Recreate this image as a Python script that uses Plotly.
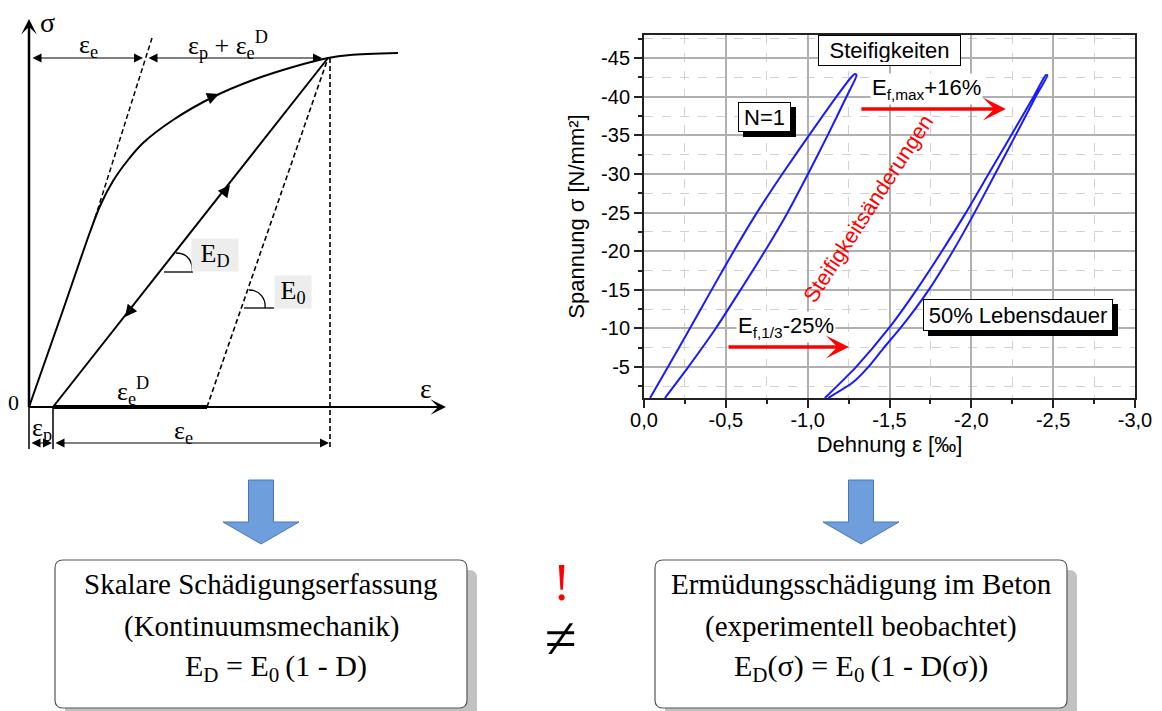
import plotly.graph_objects as go

# ---------------- right chart data: strain [‰], stress [N/mm²] ----------------
n1_load_strain = [-0.037, -0.146, -0.28, -0.413, -0.548, -0.69, -0.845, -1.008, -1.175, -1.269, -1.289]
n1_load_stress = [-1, -5, -10, -15, -20, -25, -30, -35, -40, -42.6, -42.95]
n1_unload_strain = [-1.299, -1.237, -1.122, -1.002, -0.877, -0.738, -0.590, -0.438, -0.270, -0.128]
n1_unload_stress = [-42.8, -40, -35, -30, -25, -20, -15, -10, -5, -1]

p50_load_strain = [-1.105, -1.295, -1.495, -1.665, -1.820, -1.967, -2.105, -2.243, -2.380, -2.455]
p50_load_stress = [-1, -5, -10, -15, -20, -25, -30, -35, -40, -42.8]
p50_unload_strain = [-2.465, -2.393, -2.27, -2.145, -2.02, -1.887, -1.74, -1.565, -1.465, -1.37, -1.275, -1.125]
p50_unload_stress = [-42.8, -40, -35, -30, -25, -20, -15, -10, -7.5, -5, -3, -1]

x_tickvals = [0, -0.5, -1.0, -1.5, -2.0, -2.5, -3.0]
x_ticktext = ["0,0", "-0,5", "-1,0", "-1,5", "-2,0", "-2,5", "-3,0"]
x_minor = [-0.25, -0.75, -1.25, -1.75, -2.25, -2.75]
y_tickvals = [-45, -40, -35, -30, -25, -20, -15, -10, -5]
y_ticktext = ["-45", "-40", "-35", "-30", "-25", "-20", "-15", "-10", "-5"]
y_minor = [-47.5, -42.5, -37.5, -32.5, -27.5, -22.5, -17.5, -12.5, -7.5, -2.5]

# ---------------- left schematic sketch (drawn in a pixel-space helper axis) ----------------
sk_loading_x = [29, 62, 90, 100, 113, 128, 143, 173, 213, 253, 293, 328, 350, 398]
sk_loading_y = [407, 313, 232, 206, 181, 160, 143, 120, 97, 80, 67, 58, 55, 53]
sk_tangent_x, sk_tangent_y = [95, 152], [218, 38]
sk_unload_x, sk_unload_y = [328, 53], [58, 407]
sk_e0_x, sk_e0_y = [207, 328], [407, 58]
sk_vert_x, sk_vert_y = [330, 330], [58, 447]
sk_thick_x, sk_thick_y = [53, 207], [407, 407]

SERIF = "Liberation Serif"
SANS = "Liberation Sans"
W, H = 1162, 711
OFF = 8  # page body offset of the rendered figure

fig = go.Figure()

# right chart loops
for xs, ys in ((n1_load_strain + n1_unload_strain, n1_load_stress + n1_unload_stress),
               (p50_load_strain + p50_unload_strain, p50_load_stress + p50_unload_stress)):
    fig.add_trace(go.Scatter(x=xs, y=ys, mode="lines",
                             line=dict(color="#1a1aff", width=2, shape="spline", smoothing=0.6),
                             showlegend=False, hoverinfo="skip"))

def sk_line(xs, ys, width=2, dash=None, shape="linear"):
    fig.add_trace(go.Scatter(x=xs, y=ys, xaxis="x2", yaxis="y2", mode="lines",
                             line=dict(color="black", width=width, dash=dash, shape=shape, smoothing=0.8),
                             showlegend=False, hoverinfo="skip"))

# axes of sketch
sk_line([29, 29], [407, 26], width=2.5)
sk_line([29, 438], [407, 407], width=2)
sk_line(sk_loading_x, sk_loading_y, width=2, shape="spline")
sk_line(sk_tangent_x, sk_tangent_y, width=1.5, dash="5px,3px")
sk_line(sk_unload_x, sk_unload_y, width=2)
sk_line(sk_e0_x, sk_e0_y, width=1.6, dash="5px,3px")
sk_line(sk_vert_x, sk_vert_y, width=1.6, dash="5px,3px")
sk_line(sk_thick_x, sk_thick_y, width=4)
sk_line([29, 29], [407, 449], width=1.5)
sk_line([53, 53], [407, 449], width=1.5)

ann = []

def sk_arrow(x, y, ax, ay, head=3, size=1.2, width=2, side="end"):
    ann.append(dict(x=x, y=y, ax=ax, ay=ay, xref="x2", yref="y2", axref="x2", ayref="y2",
                    text="", showarrow=True, arrowhead=head, startarrowhead=head, arrowsize=size,
                    startarrowsize=size, arrowwidth=width, arrowcolor="black", arrowside=side))

def sk_text(x, y, t, size=24, family=SERIF, color="black", **kw):
    ann.append(dict(x=x, y=y, xref="x2", yref="y2", text=t, showarrow=False,
                    font=dict(family=family, size=size, color=color), **kw))

# axis arrowheads
sk_arrow(29, 19, 29, 32, head=3, size=1.3, width=2)
sk_arrow(446, 407, 433, 407, head=3, size=1.3, width=2)
# direction arrows on paths
sk_arrow(230, 185, 223.8, 192.9, head=2, size=1.6, width=1.5)
sk_arrow(125, 317, 131.2, 309.1, head=2, size=1.6, width=1.5)
sk_arrow(219, 94, 209, 98, head=2, size=1.6, width=1.5)
# dimension arrows
sk_arrow(143, 58, 31, 58, head=2, size=1.8, width=1, side="end+start")
sk_arrow(322, 58, 147, 58, head=2, size=1.8, width=1, side="end+start")
sk_arrow(52, 443, 30, 443, head=2, size=1.8, width=1, side="end+start")
sk_arrow(329, 443, 54, 443, head=2, size=1.8, width=1, side="end+start")

# sketch labels
sk_text(47, 22, "σ", size=28)
sk_text(88, 46, "ε<sub>e</sub>", size=26)
sk_text(228, 45, "ε<sub>p</sub> + ε<sub>e</sub><sup>D</sup>", size=26)
sk_text(13, 402, "0", size=22)
sk_text(426, 388, "ε", size=28)
sk_text(133, 391, "ε<sub>e</sub><sup>D</sup>", size=26)
sk_text(42, 429, "ε<sub>p</sub>", size=26)
sk_text(183, 432, "ε<sub>e</sub>", size=26)
sk_text(214.5, 255, "E<sub>D</sub>", size=26, bgcolor="#ededed", width=44, height=30)
sk_text(292.5, 292, "E<sub>0</sub>", size=26, bgcolor="#ededed", width=34, height=30)

shapes = []
# angle marks
shapes.append(dict(type="path", xref="x2", yref="y2", path="M176,253 C188,253 193,262 192,272",
                   line=dict(color="black", width=1.3)))
shapes.append(dict(type="line", xref="x2", yref="y2", x0=164, y0=272, x1=193, y1=272,
                   line=dict(color="black", width=1.3)))
shapes.append(dict(type="path", xref="x2", yref="y2", path="M249,290 C260,290 266,299 265,308",
                   line=dict(color="black", width=1.3)))
shapes.append(dict(type="line", xref="x2", yref="y2", x0=244, y0=308, x1=274, y1=308,
                   line=dict(color="black", width=1.3)))

# blue down arrows
def down_arrow(c):
    return (f"M{c-12.5},480 L{c+12.5},480 L{c+12.5},522 L{c+38},522 L{c},544 "
            f"L{c-38},522 L{c-12.5},522 Z")
for c in (261, 861):
    shapes.append(dict(type="path", xref="x2", yref="y2", path=down_arrow(c),
                       fillcolor="#6f9edc", line=dict(color="#4a77b4", width=1)))

def rrect(x0, y0, x1, y1, r):
    return (f"M{x0+r},{y0} L{x1-r},{y0} Q{x1},{y0} {x1},{y0+r} L{x1},{y1-r} Q{x1},{y1} {x1-r},{y1} "
            f"L{x0+r},{y1} Q{x0},{y1} {x0},{y1-r} L{x0},{y0+r} Q{x0},{y0} {x0+r},{y0} Z")

for (x0, x1) in ((55, 467), (655, 1067)):
    shapes.append(dict(type="path", xref="x2", yref="y2", path=rrect(x0 + 10, 570, x1 + 10, 718, 8),
                       fillcolor="#c2c2c2", line=dict(width=0), layer="above"))
    shapes.append(dict(type="path", xref="x2", yref="y2", path=rrect(x0, 560, x1, 708, 8),
                       fillcolor="white", line=dict(color="#555555", width=1.2), layer="above"))

# box texts
box_lines_left = ["Skalare Schädigungserfassung", "(Kontinuumsmechanik)",
                  "E<sub>D</sub> = E<sub>0</sub>\u2009(1 - D)"]
box_lines_right = ["Ermüdungsschädigung im Beton", "(experimentell beobachtet)",
                   "E<sub>D</sub>(σ) = E<sub>0</sub>\u2009(1 - D(σ))"]
for cxs, lines in (((261, 261, 276), box_lines_left), ((861, 861, 861), box_lines_right)):
    for cx, t, yy, sz in zip(cxs, lines, (584, 626, 668), (29, 29, 30)):
        sk_text(cx, yy, t, size=sz)

sk_text(561, 582, "!", size=52, color="#ff0000")
sk_text(561, 638, "≠", size=58)

# ---------------- right chart annotations ----------------
def box_label(x, y, t, w, h, shadow):
    if shadow:
        ann.append(dict(x=x, y=y, xref="x", yref="y", text=t, showarrow=False, xshift=5, yshift=-5,
                        font=dict(family=SANS, size=22, color="black"), bgcolor="black",
                        bordercolor="black", borderwidth=1, borderpad=3, width=w, height=h))
    ann.append(dict(x=x, y=y, xref="x", yref="y", text=t, showarrow=False,
                    font=dict(family=SANS, size=22, color="black"), bgcolor="white",
                    bordercolor="black", borderwidth=1, borderpad=3, width=w, height=h))

box_label(-1.50, -45.98, "Steifigkeiten", 135, 23, False)
box_label(-0.736, -37.37, "N=1", 45, 22, True)
box_label(-2.285, -11.74, "50% Lebensdauer", 182, 24, True)

ann.append(dict(x=-1.723, y=-41.0, xref="x", yref="y", text="E<sub>f,max</sub>+16%", showarrow=False,
                font=dict(family=SANS, size=22, color="black"), bgcolor="white"))
ann.append(dict(x=-0.867, y=-10.2, xref="x", yref="y", text="E<sub>f,1/3</sub>-25%", showarrow=False,
                font=dict(family=SANS, size=22, color="black"), bgcolor="white"))
ann.append(dict(x=-2.211, y=-38.41, ax=-1.319, ay=-38.41, xref="x", yref="y", axref="x", ayref="y",
                text="", showarrow=True, arrowhead=3, arrowsize=1.1, arrowwidth=3.5, arrowcolor="#ff0000"))
ann.append(dict(x=-1.252, y=-7.60, ax=-0.507, ay=-7.60, xref="x", yref="y", axref="x", ayref="y",
                text="", showarrow=True, arrowhead=3, arrowsize=1.1, arrowwidth=3.5, arrowcolor="#ff0000"))
ann.append(dict(x=-1.37, y=-25.5, xref="x", yref="y", text="Steifigkeitsänderungen", showarrow=False,
                textangle=-57, font=dict(family=SANS, size=21.5, color="#ff0000")))

fig.update_layout(
    width=W, height=H, autosize=False,
    margin=dict(l=0, r=0, t=0, b=0, pad=0, autoexpand=False),
    paper_bgcolor="white", plot_bgcolor="rgba(0,0,0,0)",
    font=dict(family=SANS, color="black"),
    showlegend=False,
    xaxis=dict(domain=[(644 - OFF) / W, (1135 - OFF) / W], range=[0, -3], anchor="y", automargin=False,
               tickmode="array", tickvals=x_tickvals, ticktext=x_ticktext,
               ticks="outside", ticklen=8, tickwidth=1.5, tickcolor="#222",
               tickfont=dict(family=SANS, size=20), ticklabelstandoff=-5,
               showline=True, linecolor="#222", linewidth=2, mirror=True,
               showgrid=True, gridcolor="#b0b0b0", gridwidth=1.5, zeroline=False,
               minor=dict(tickmode="array", tickvals=x_minor, ticks="outside", ticklen=4,
                          tickcolor="#222", showgrid=True, gridcolor="#d2d2d2", griddash="dash", gridwidth=1),
               title=dict(text="Dehnung ε [‰]", font=dict(family=SANS, size=22), standoff=7)),
    yaxis=dict(domain=[1 - (398 - OFF) / H, 1 - (35 - OFF) / H], range=[-1, -48], anchor="x",
               automargin=False,
               tickmode="array", tickvals=y_tickvals, ticktext=y_ticktext,
               ticks="outside", ticklen=8, tickwidth=1.5, tickcolor="#222",
               tickfont=dict(family=SANS, size=20),
               showline=True, linecolor="#222", linewidth=2, mirror=True,
               showgrid=True, gridcolor="#b0b0b0", gridwidth=1.5, zeroline=False,
               minor=dict(tickmode="array", tickvals=y_minor, ticks="outside", ticklen=4,
                          tickcolor="#222", showgrid=True, gridcolor="#d2d2d2", griddash="dash", gridwidth=1),
               title=dict(text="Spannung σ [N/mm²]", font=dict(family=SANS, size=22), standoff=10)),
    xaxis2=dict(domain=[0, 1], range=[OFF, W + OFF], anchor="y2", visible=False, fixedrange=True,
                automargin=False),
    yaxis2=dict(domain=[0, 1], range=[H + OFF, OFF], anchor="x2", visible=False, fixedrange=True,
                automargin=False),
    annotations=ann, shapes=shapes,
)

fig.write_html("out.html")
